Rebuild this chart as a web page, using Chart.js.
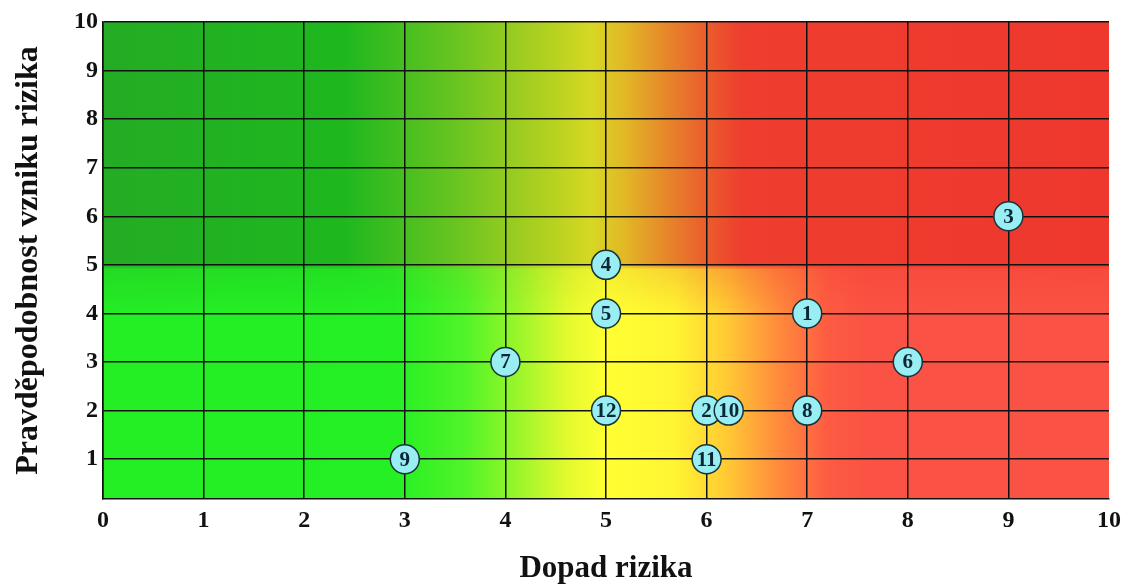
<!DOCTYPE html>
<html>
<head>
<meta charset="utf-8">
<script src="https://cdn.jsdelivr.net/npm/chart.js@4"></script>
<style>
  html, body { margin: 0; padding: 0; background: #fff; overflow: hidden; }
  #riskChart { display: block; }
</style>
</head>
<body>
<canvas id="riskChart" width="1128" height="588"></canvas>
<script>
// risk ids with impact (x) and probability (y)
const riskLabels = ["1", "2", "3", "4", "5", "6", "7", "8", "9", "10", "11", "12"];
const impact = [7, 6, 9, 5, 5, 8, 4, 7, 3, 6.22, 6, 5];
const probability = [4, 2, 6, 5, 4, 3, 3, 2, 1, 2, 1, 2];
const xTicks = [0, 1, 2, 3, 4, 5, 6, 7, 8, 9, 10];
const yTicks = [1, 2, 3, 4, 5, 6, 7, 8, 9, 10];

const serif = "'Liberation Serif', 'Times New Roman', serif";

// colour bands behind the grid (upper = darker, lower = brighter)
const upperStops = [
  [0, "rgb(36,172,36)"], [2.4, "rgb(30,184,30)"], [3.5, "rgb(105,196,32)"],
  [4.5, "rgb(185,210,32)"], [4.85, "rgb(214,216,36)"], [5.2, "rgb(226,182,38)"],
  [5.6, "rgb(230,135,42)"], [6.0, "rgb(235,92,44)"], [6.35, "rgb(238,62,46)"],
  [10, "rgb(238,56,46)"]
];
const lowerStops = [
  [0, "rgb(36,238,36)"], [2.9, "rgb(36,240,36)"], [3.6, "rgb(80,244,40)"],
  [4.1, "rgb(150,246,42)"], [4.6, "rgb(225,250,46)"], [5.0, "rgb(255,255,50)"],
  [5.7, "rgb(255,244,50)"], [6.2, "rgb(255,202,52)"], [6.7, "rgb(255,140,60)"],
  [7.2, "rgb(253,92,66)"], [7.6, "rgb(250,82,68)"], [10, "rgb(250,82,68)"]
];

const heatBackground = {
  id: "heatBackground",
  beforeDraw(chart) {
    const { ctx, chartArea: a, scales: { y } } = chart;
    const grad = (stops) => {
      const g = ctx.createLinearGradient(a.left, 0, a.right, 0);
      stops.forEach(([v, c]) => g.addColorStop(v / 10, c));
      return g;
    };
    ctx.save();
    ctx.fillStyle = grad(lowerStops);
    ctx.fillRect(a.left, a.top, a.right - a.left, a.bottom - a.top);
    const yTop = y.getPixelForValue(10);
    const yFull = y.getPixelForValue(5);
    const yZero = y.getPixelForValue(4);
    ctx.fillStyle = grad(upperStops);
    ctx.fillRect(a.left, yTop, a.right - a.left, yFull - yTop);
    // soft band between 5 and 4: quick drop then a faint tint
    for (let py = yFull; py < yZero; py++) {
      const t = (py - yFull) / (yZero - yFull);
      ctx.globalAlpha = t < 0.08 ? 1 - t * 8.5 : 0.32 * (1 - t);
      ctx.fillRect(a.left, py, a.right - a.left, 1);
    }
    ctx.restore();
  }
};

const pointNumbers = {
  id: "pointNumbers",
  afterDatasetsDraw(chart) {
    const { ctx } = chart;
    const meta = chart.getDatasetMeta(0);
    ctx.save();
    ctx.font = "bold 21px " + serif;
    ctx.fillStyle = "#0c2636";
    ctx.textAlign = "center";
    ctx.textBaseline = "middle";
    meta.data.forEach((pt, i) => {
      ctx.fillText(riskLabels[i], pt.x, pt.y + 1);
    });
    ctx.restore();
  }
};

new Chart(document.getElementById("riskChart"), {
  type: "scatter",
  data: {
    datasets: [
      {
        label: "Rizika",
        data: impact.map((v, i) => ({ x: v, y: probability[i] })),
        pointRadius: 14.5,
        pointHoverRadius: 14.5,
        pointBackgroundColor: "#98eef2",
        pointBorderColor: "#16333a",
        pointBorderWidth: 1.5,
      },
    ],
  },
  options: {
    responsive: false,
    animation: false,
    layout: { padding: { top: 22, right: 13, left: 0, bottom: 0 } },
    plugins: {
      legend: { display: false },
      tooltip: { enabled: false },
    },
    scales: {
      x: {
        type: "linear",
        min: 0,
        max: 10,
        afterBuildTicks: (s) => { s.ticks = xTicks.map((v) => ({ value: v })); },
        afterFit: (s) => { s.height = 89; },
        grid: {
          color: (c) => (c.tick && c.tick.value === 10 ? "rgba(0,0,0,0)" : "#111"),
          lineWidth: 1.5,
          drawTicks: false,
        },
        border: { color: "#111", width: 1.5 },
        ticks: {
          padding: 7,
          color: "#111",
          font: { family: serif, size: 24, weight: "bold" },
          maxRotation: 0,
        },
        title: {
          display: true,
          text: "Dopad rizika",
          color: "#111",
          font: { family: serif, size: 31, weight: "bold" },
          padding: { top: 0, bottom: 0 },
        },
      },
      y: {
        type: "linear",
        min: 0.18,
        max: 10,
        afterBuildTicks: (s) => { s.ticks = yTicks.map((v) => ({ value: v })); },
        afterFit: (s) => { s.width = 103; },
        grid: {
          color: "#111",
          lineWidth: 1.5,
          drawTicks: false,
        },
        border: { color: "#111", width: 1.5 },
        ticks: {
          padding: 5,
          color: "#111",
          font: { family: serif, size: 24, weight: "bold" },
        },
        title: {
          display: true,
          text: "Pravděpodobnost vzniku rizika",
          color: "#111",
          font: { family: serif, size: 32, weight: "bold" },
          padding: { top: 10, bottom: 0 },
        },
      },
    },
  },
  plugins: [heatBackground, pointNumbers],
});
</script>
</body>
</html>
